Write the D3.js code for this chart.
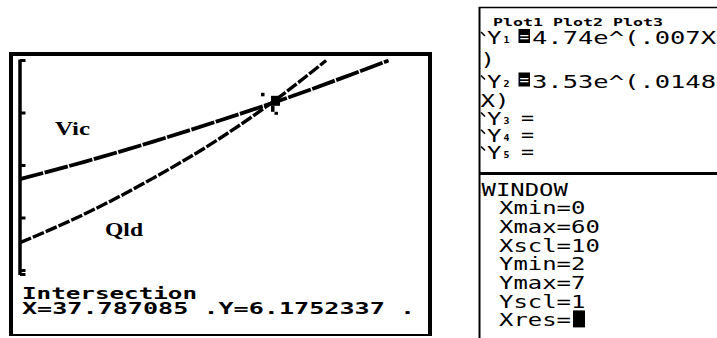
<!DOCTYPE html>
<html>
<head>
<meta charset="utf-8">
<script src="https://cdn.jsdelivr.net/npm/d3@7"></script>
<style>
  html, body { margin: 0; padding: 0; background: #fff; }
  svg { display: block; }
</style>
</head>
<body>
<svg id="chart" width="717" height="338"></svg>
<script>
// ---- data ----
const windowX = [0, 60];          // Xmin, Xmax
const windowY = [2, 7];           // Ymin, Ymax
const yTicks = [3, 4, 5, 6, 7];   // Yscl = 1 (visible ticks)
const vicX = [0, 10, 20, 30, 40, 50, 55.7];
const vicY = [4.74, 5.08, 5.45, 5.85, 6.27, 6.73, 7.0];
const qldX = [0, 10, 20, 30, 40, 46.26];
const qldY = [3.53, 4.09, 4.75, 5.50, 6.38, 7.0];
const intersection = [37.787085, 6.1752337];
const seriesLabels = ["Vic", "Qld"];
const statusLines = ["Intersection", "X=37.787085 .Y=6.1752337 ."];
const yEquals = [
  { name: "1", expr: "4.74e^(.007X", cont: ")" },
  { name: "2", expr: "3.53e^(.0148", cont: "X)" },
  { name: "3", expr: null },
  { name: "4", expr: null },
  { name: "5", expr: null }
];
const plotHeader = "Plot1 Plot2 Plot3";
const windowLines = ["WINDOW", "Xmin=0", "Xmax=60", "Xscl=10", "Ymin=2", "Ymax=7", "Yscl=1", "Xres="];

const svg = d3.select("#chart");
svg.append("rect").attr("width", 717).attr("height", 338).attr("fill", "#fff");

// ---------- left panel: graph screen ----------
const left = svg.append("g");
left.append("line").attr("x1", 11).attr("x2", 11).attr("y1", 52).attr("y2", 336).attr("stroke", "#000").attr("stroke-width", 4);
left.append("line").attr("x1", 9).attr("x2", 432).attr("y1", 54).attr("y2", 54).attr("stroke", "#000").attr("stroke-width", 4);
left.append("line").attr("x1", 430).attr("x2", 430).attr("y1", 52).attr("y2", 336).attr("stroke", "#000").attr("stroke-width", 4);
left.append("line").attr("x1", 9).attr("x2", 432).attr("y1", 335).attr("y2", 335).attr("stroke", "#000").attr("stroke-width", 2);

const x = d3.scaleLinear().domain(windowX).range([20, 417]);
const y = d3.scaleLinear().domain(windowY).range([323, 60.5]);

svg.append("clipPath").attr("id", "plotclip")
  .append("rect").attr("x", 14).attr("y", 58).attr("width", 414).attr("height", 220);

const plot = left.append("g").attr("clip-path", "url(#plotclip)");

// y axis (x = 0)
plot.append("line")
  .attr("x1", x(0)).attr("x2", x(0))
  .attr("y1", y(windowY[1]) - 1).attr("y2", 275)
  .attr("stroke", "#000").attr("stroke-width", 3.5);
plot.selectAll("line.tick").data(yTicks).enter().append("line")
  .attr("class", "tick")
  .attr("x1", x(0)).attr("x2", x(0) + 5.5)
  .attr("y1", d => y(d)).attr("y2", d => y(d))
  .attr("stroke", "#000").attr("stroke-width", 3);
plot.append("line")
  .attr("x1", x(0)).attr("x2", x(0) + 5.5)
  .attr("y1", 274.5).attr("y2", 274.5)
  .attr("stroke", "#000").attr("stroke-width", 3);

const line = d3.line().x(d => x(d[0])).y(d => y(d[1])).curve(d3.curveMonotoneX);
const vic = vicX.map((v, i) => [v, vicY[i]]);
const qld = qldX.map((v, i) => [v, qldY[i]]);

plot.append("path").datum(vic).attr("d", line)
  .attr("fill", "none").attr("stroke", "#000").attr("stroke-width", 3.8)
  .attr("stroke-dasharray", "24 1.5");
plot.append("path").datum(qld).attr("d", line)
  .attr("fill", "none").attr("stroke", "#000").attr("stroke-width", 3.4)
  .attr("stroke-dasharray", "12 2");

// cursor at intersection
const cx = x(intersection[0]) + 3, cy = y(intersection[1]);
plot.append("rect").attr("x", cx - 2).attr("y", cy - 8).attr("width", 9).attr("height", 10).attr("fill", "#000");
plot.append("rect").attr("x", cx - 12).attr("y", cy - 11).attr("width", 3.5).attr("height", 3.5).attr("fill", "#000");
plot.append("rect").attr("x", cx - 2).attr("y", cy + 2).attr("width", 3.5).attr("height", 6).attr("fill", "#000");
plot.append("rect").attr("x", cx + 1.5).attr("y", cy + 8).attr("width", 3.5).attr("height", 3).attr("fill", "#000");

// series labels
const labelPos = [{ x: 55, y: 135, w: 35 }, { x: 105, y: 236, w: 38 }];
left.selectAll("text.lab").data(seriesLabels).enter().append("text")
  .attr("class", "lab")
  .attr("x", (d, i) => labelPos[i].x).attr("y", (d, i) => labelPos[i].y)
  .attr("textLength", (d, i) => labelPos[i].w).attr("lengthAdjust", "spacingAndGlyphs")
  .attr("font-family", "'Liberation Serif', 'Times New Roman', serif")
  .attr("font-weight", "bold").attr("font-size", 18)
  .text(d => d);

// status lines
const statusPos = [{ y: 298.5, w: 175 }, { y: 313.5, w: 393 }];
left.selectAll("text.status").data(statusLines).enter().append("text")
  .attr("class", "status")
  .attr("x", 22).attr("y", (d, i) => statusPos[i].y)
  .attr("textLength", (d, i) => statusPos[i].w).attr("lengthAdjust", "spacingAndGlyphs")
  .attr("font-family", "'DejaVu Sans Mono', monospace")
  .attr("font-weight", "bold").attr("font-size", 16)
  .text(d => d);

// ---------- right panel: Y= and WINDOW screens ----------
const right = svg.append("g");
right.append("line").attr("x1", 479.5).attr("x2", 479.5).attr("y1", 7).attr("y2", 338).attr("stroke", "#000").attr("stroke-width", 2);
right.append("line").attr("x1", 479).attr("x2", 717).attr("y1", 7.5).attr("y2", 7.5).attr("stroke", "#000").attr("stroke-width", 1.5);
right.append("line").attr("x1", 479).attr("x2", 717).attr("y1", 173.5).attr("y2", 173.5).attr("stroke", "#000").attr("stroke-width", 3);

const mono = "'DejaVu Sans Mono', monospace";
right.append("text").attr("x", 493).attr("y", 25.5)
  .attr("textLength", 170).attr("lengthAdjust", "spacingAndGlyphs")
  .attr("font-family", mono).attr("font-weight", "bold").attr("font-size", 11)
  .text(plotHeader);

const rowBase = [44, 65.5, 87.5, 106.5, 124.5, 141.8, 158.5];
let r = 0;
yEquals.forEach(eq => {
  const by = rowBase[r];
  // graph-style icon "\"
  right.append("line").attr("x1", 481).attr("y1", by - 12).attr("x2", 485).attr("y2", by - 8)
    .attr("stroke", "#000").attr("stroke-width", 1.6);
  right.append("text").attr("x", 487).attr("y", by)
    .attr("textLength", 14.5).attr("lengthAdjust", "spacingAndGlyphs")
    .attr("font-family", mono).attr("font-size", 17.5).text("Y");
  right.append("text").attr("x", 503.5).attr("y", by - 1)
    .attr("textLength", 6).attr("lengthAdjust", "spacingAndGlyphs")
    .attr("font-family", mono).attr("font-size", 9.5).attr("font-weight", "bold").text(eq.name);
  if (eq.expr) {
    right.append("rect").attr("x", 518.5).attr("y", by - 15).attr("width", 11.5).attr("height", 14).attr("fill", "#000");
    right.append("text").attr("x", 519.5).attr("y", by - 2.5)
      .attr("textLength", 9.5).attr("lengthAdjust", "spacingAndGlyphs")
      .attr("font-family", mono).attr("font-size", 14).attr("fill", "#fff").text("=");
    right.append("text").attr("x", 532).attr("y", by)
      .attr("textLength", 184).attr("lengthAdjust", "spacingAndGlyphs")
      .attr("font-family", mono).attr("font-size", 18.5).text(eq.expr);
    r++;
    right.append("text").attr("x", 480.5).attr("y", rowBase[r])
      .attr("textLength", eq.cont.length * 14.5).attr("lengthAdjust", "spacingAndGlyphs")
      .attr("font-family", mono).attr("font-size", 18.5).text(eq.cont);
  } else {
    right.append("text").attr("x", 521).attr("y", by - 0.5)
      .attr("textLength", 13).attr("lengthAdjust", "spacingAndGlyphs")
      .attr("font-family", mono).attr("font-size", 17.5).text("=");
  }
  r++;
});

const winBase = 195.5, winStep = 18.7;
windowLines.forEach((t, i) => {
  const xx = i === 0 ? 481.5 : 499;
  right.append("text").attr("x", xx).attr("y", winBase + i * winStep)
    .attr("textLength", t.length * 14.4).attr("lengthAdjust", "spacingAndGlyphs")
    .attr("font-family", mono).attr("font-size", 18.5).text(t);
});
// Xres cursor block
right.append("rect").attr("x", 573).attr("y", winBase + 7 * winStep - 16).attr("width", 12).attr("height", 17).attr("fill", "#000");
</script>
</body>
</html>
